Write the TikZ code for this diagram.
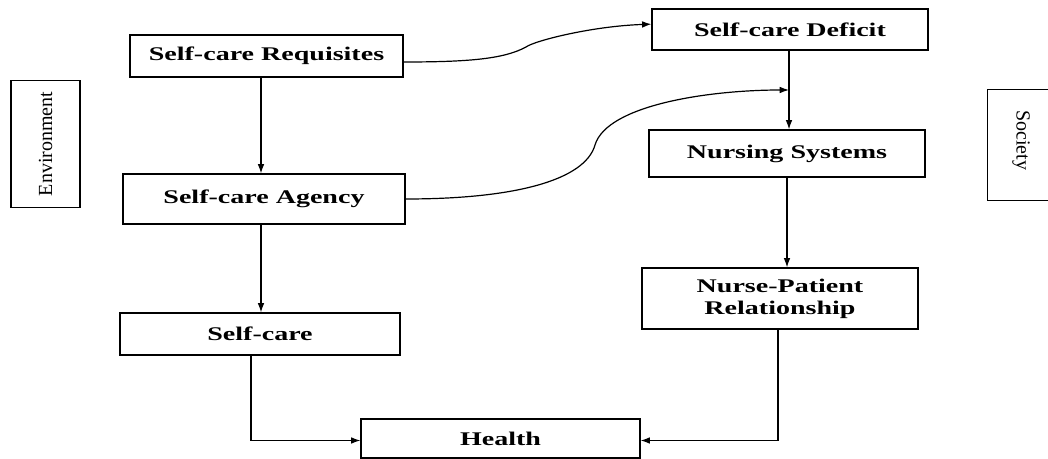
\documentclass[tikz,border=0pt]{standalone}
\usepackage{fontspec}
\setmainfont{Liberation Serif}[FakeStretch=1.45]
\newfontfamily\sidefont{Liberation Serif}
\usetikzlibrary{arrows.meta}
\begin{document}
\begin{tikzpicture}[x=0.75pt,y=-0.75pt,
  box/.style={draw, line width=0.9pt, inner sep=0pt, align=center,
    font=\fontsize{14.5}{16.5}\selectfont\bfseries},
  sidebox/.style={draw, line width=0.9pt, inner sep=0pt},
  sidetext/.style={font=\sidefont\fontsize{15}{16}\selectfont},
  arr/.style={line width=0.9pt, -{Latex[length=7pt,width=5pt]}}]
\useasboundingbox (0,0) rectangle (1048,459);
\node[box, minimum width=204.75pt, minimum height=31.5pt] (req) at (266.5,56) {Self-care Requisites};
\node[box, minimum width=207pt, minimum height=30.75pt] (def) at (790,29.5) {Self-care Deficit};
\node[box, minimum width=207pt, minimum height=35.25pt] (nsys) at (787,153.5) {Nursing Systems};
\node[box, minimum width=211.5pt, minimum height=37.5pt] (agency) at (264,199) {Self-care Agency};
\node[box, minimum width=210pt, minimum height=31.5pt] (self) at (260,334) {Self-care};
\node[box, minimum width=207pt, minimum height=45.75pt] (npr) at (780,298.5) {Nurse-Patient\\Relationship};
\node[box, minimum width=209.25pt, minimum height=29.25pt] (health) at (500.5,438.5) {Health};
\node[sidebox, minimum width=51.75pt, minimum height=95.25pt] (env) at (45.5,144) {};
\node[sidetext, rotate=90] (envt) at (env.center) {Environment};
\node[sidebox, minimum width=60pt, minimum height=83.25pt, anchor=north west] (soc) at (987,89) {};
\node[sidetext, rotate=-90] (soct) at (1021,140) {Society};
% x positions of the straight connectors
\coordinate (ax) at (261,0);
\coordinate (dx) at (789,0);
\coordinate (nx) at (787,0);
\coordinate (sx) at (251,0);
\coordinate (px) at (778,0);
\coordinate (m2) at (789,90);
\draw[arr] (req.south -| ax) -- (agency.north -| ax);
\draw[arr] (agency.south -| ax) -- (self.north -| ax);
\draw[arr] (def.south -| dx) -- (nsys.north -| dx);
\draw[arr] (nsys.south -| nx) -- (npr.north -| nx);
\draw[arr] (self.south -| sx) |- ([yshift=-1.5pt]health.west);
\draw[arr] (npr.south -| px) |- ([yshift=-1.5pt]health.east);
\draw[arr] ([yshift=-4.5pt]req.east) .. controls +(65,0) and +(-22,12) .. (526,47)
   .. controls +(8,-6) and +(-60,2) .. ([yshift=4pt]def.west);
\draw[arr] (agency.east) .. controls +(110,0) and +(-10,35) .. (595,145)
   .. controls +(12,-40) and +(-80,0) .. (m2);
\end{tikzpicture}
\end{document}
